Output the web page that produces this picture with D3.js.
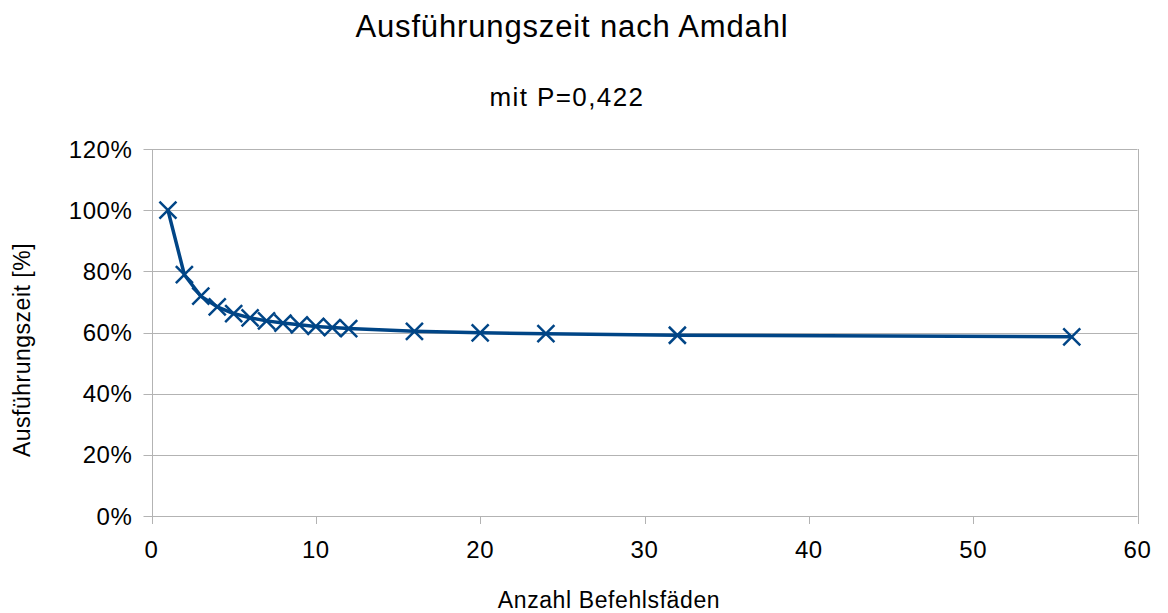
<!DOCTYPE html>
<html>
<head>
<meta charset="utf-8">
<script src="https://cdnjs.cloudflare.com/ajax/libs/d3/7.8.5/d3.min.js"></script>
<style>
    body { margin: 0; background: #fff; }
    text { font-family: "Liberation Sans", Arial, sans-serif; fill: #000; }
</style>
</head>
<body>
<div id="vis"></div>
<script>
// anzahl threads (x) und relative ausfuehrungszeit (y)
var threads = [1, 2, 3, 4, 5, 6, 7, 8, 9, 10, 11, 12, 16, 20, 24, 32, 56];
var zeit = [1.0, 0.789, 0.719, 0.684, 0.662, 0.648, 0.638, 0.631, 0.625,
            0.620, 0.616, 0.613, 0.604, 0.599, 0.596, 0.591, 0.586];

var xTicks = [0, 10, 20, 30, 40, 50, 60];
var yTicks = [0, 0.2, 0.4, 0.6, 0.8, 1.0, 1.2];

var titleText = "Ausführungszeit nach Amdahl";
var subtitleText = "mit P=0,422";
var xLabel = "Anzahl Befehlsfäden";
var yLabel = "Ausführungszeit [%]";

var width = 1168;
var height = 613;
var margin = {
    top: 149,
    left: 151.5,
    bottom: 97,
    right: 30.5
};
var lineColor = "#004586";
var gridColor = "#b3b3b3";

var svg = d3.select("#vis").append("svg")
    .attr("width", width)
    .attr("height", height);

var x = d3.scaleLinear()
    .domain([0, 60])
    .range([margin.left, width - margin.right]);

var y = d3.scaleLinear()
    .domain([0, 1.2])
    .range([height - margin.bottom, margin.top]);

// horizontal gridlines
svg.append("g")
    .attr("class", "grid")
    .selectAll("line")
    .data(yTicks)
    .enter().append("line")
    .attr("x1", x(0) - 8)
    .attr("x2", x(60))
    .attr("y1", function(d) { return Math.round(y(d)) + 0.5; })
    .attr("y2", function(d) { return Math.round(y(d)) + 0.5; })
    .attr("stroke", gridColor)
    .attr("stroke-width", 1);

// x ticks, first and last one run up as the plot border
svg.append("g")
    .selectAll("line")
    .data(xTicks)
    .enter().append("line")
    .attr("x1", function(d) { return Math.round(x(d)) + 0.5; })
    .attr("x2", function(d) { return Math.round(x(d)) + 0.5; })
    .attr("y1", function(d) { return (d === 0 || d === 60) ? y(1.2) : y(0); })
    .attr("y2", y(0) + 8)
    .attr("stroke", gridColor)
    .attr("stroke-width", 1);

// tick labels
svg.append("g")
    .selectAll("text")
    .data(yTicks)
    .enter().append("text")
    .attr("x", x(0) - 19)
    .attr("y", function(d) { return y(d); })
    .attr("dy", "0.36em")
    .attr("text-anchor", "end")
    .style("font-size", "24px")
    .style("letter-spacing", "0.6px")
    .text(d3.format(".0%"));

svg.append("g")
    .selectAll("text")
    .data(xTicks)
    .enter().append("text")
    .attr("x", function(d) { return x(d); })
    .attr("y", y(0) + 42)
    .attr("text-anchor", "middle")
    .style("font-size", "24px")
    .style("letter-spacing", "0.6px")
    .text(function(d) { return d; });

// titles
svg.append("text")
    .attr("x", 572)
    .attr("y", 37)
    .attr("text-anchor", "middle")
    .style("font-size", "31px")
    .style("letter-spacing", "0.85px")
    .text(titleText);

svg.append("text")
    .attr("x", 567)
    .attr("y", 106)
    .attr("text-anchor", "middle")
    .style("font-size", "26px")
    .style("letter-spacing", "1.4px")
    .text(subtitleText);

svg.append("text")
    .attr("x", 609)
    .attr("y", 608)
    .attr("text-anchor", "middle")
    .style("font-size", "23px")
    .style("letter-spacing", "0.6px")
    .text(xLabel);

svg.append("text")
    .attr("transform", "translate(30,350) rotate(-90)")
    .attr("text-anchor", "middle")
    .style("font-size", "23px")
    .style("letter-spacing", "0.5px")
    .text(yLabel);

// the series
var points = threads.map(function(t, i) { return [t, zeit[i]]; });

var line = d3.line()
    .x(function(d) { return x(d[0]); })
    .y(function(d) { return y(d[1]); });

svg.append("path")
    .datum(points)
    .attr("d", line)
    .attr("fill", "none")
    .attr("stroke", lineColor)
    .attr("stroke-width", 3.5)
    .attr("stroke-linejoin", "round");

var r = 8.5;
svg.append("g")
    .selectAll("path")
    .data(points)
    .enter().append("path")
    .attr("transform", function(d) { return "translate(" + x(d[0]) + "," + y(d[1]) + ")"; })
    .attr("d", "M" + (-r) + "," + (-r) + "L" + r + "," + r + "M" + (-r) + "," + r + "L" + r + "," + (-r))
    .attr("fill", "none")
    .attr("stroke", lineColor)
    .attr("stroke-width", 2.5);
</script>
</body>
</html>
